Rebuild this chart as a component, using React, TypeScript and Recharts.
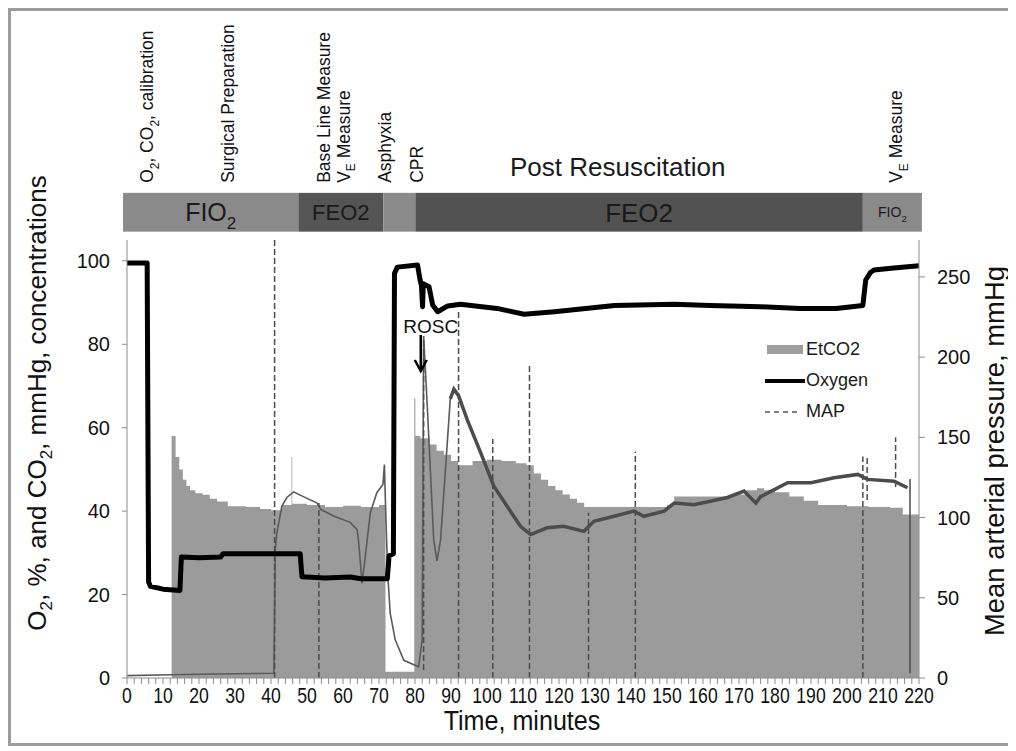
import React from 'react'
import { ComposedChart, Area, Line, XAxis, YAxis, ReferenceArea, ReferenceDot, Legend } from 'recharts'

const SANS = "'Liberation Sans', Arial, sans-serif"

// time axis, minutes: minor tick every 2, label every 10
const timeTicks = Array.from({ length: 111 }, (_, i) => i * 2)
const leftTicks = [0, 20, 40, 60, 80, 100]
const rightTicks = [0, 50, 100, 150, 200, 250]

// [minute, EtCO2 mmHg]
const etco2: [number, number][] = [
  [12.4, 58], [13.5, 53], [14.5, 50], [15.5, 47.5], [16.5, 46], [17.5, 45], [19, 44.3], [21, 43.9],
  [23, 43], [25, 42.3], [28, 41.2], [33, 41], [37, 40.5], [40, 40.2], [43, 41.5], [45.7, 53],
  [45.9, 41.8], [50, 41.5], [55, 41], [60, 41.3], [65, 41], [70, 41.5], [71.8, 1.5], [79.8, 67],
  [80.1, 58], [81.5, 57.5], [84, 56], [86, 54.5], [88, 53.5], [90, 52], [92, 51], [96, 52],
  [100, 52.3], [104, 52], [108, 51.5], [111, 51], [113, 49], [115, 47.5], [117, 46], [119, 45],
  [121, 44], [123, 43], [125, 42], [127, 41], [135, 41], [145, 41], [150, 41.5], [152, 43.5],
  [158, 43.5], [163, 43.5], [168, 44], [172, 45], [175, 45.5], [177, 45], [180, 44.5], [184, 43.5],
  [188, 42.5], [192, 41.5], [200, 41.2], [206, 41], [212, 40.8], [215.5, 39.2], [220, 39.2],
]

// [minute, oxygen %]
const oxygen: [number, number][] = [
  [0, 99.5], [5.6, 99.5], [6.0, 23], [6.5, 22], [10, 21.3], [14.7, 21], [15.1, 29], [20, 28.8],
  [26, 29], [26.7, 29.8], [35, 29.8], [48.1, 29.8], [48.6, 24.3], [55, 24], [62, 24.2], [65, 23.8],
  [72.3, 23.8], [72.8, 29.3], [74, 29.8], [74.3, 97], [75.1, 98.5], [80.7, 99], [81.4, 95.5],
  [81.8, 94], [82.1, 89], [82.3, 94.5], [83.9, 93.8], [84.9, 89.4], [86.3, 87.8], [89.1, 89.2],
  [92.6, 89.6], [102.8, 88.6], [110.3, 87.2], [118.7, 87.8], [135.4, 89.3], [152, 89.6], [162, 89.3],
  [176, 89], [187, 88.6], [197, 88.6], [204.4, 89.3], [205.2, 95.4], [206.5, 97.2], [207.5, 97.8],
  [213, 98.3], [220, 98.8],
]

// [minute, MAP mmHg] before and during resuscitation
const mapEarly: [number, number][] = [
  [0, 1.5], [12, 2], [25, 2.5], [40.8, 3], [41.2, 80], [41.6, 90], [43, 107], [44.4, 112.5],
  [46.3, 116], [48.1, 114], [52.8, 109], [53.9, 105], [57.4, 101], [62, 97], [63.9, 92.5],
  [64.3, 86], [65.3, 59], [66.2, 76], [67.6, 103], [69.4, 115.5], [71.1, 120.6], [71.5, 133],
  [71.9, 101], [72.4, 65.6], [73.1, 40.6], [74.5, 23.8], [76.9, 11], [81, 7], [82, 24], [82.4, 213],
  [83.4, 170], [84.3, 128], [85.2, 86], [86.1, 73], [87.1, 86], [88.4, 128], [89.8, 174],
]

// [minute, MAP mmHg] after ROSC
const mapLate: [number, number][] = [
  [89.8, 174], [90.8, 180], [92.1, 176], [94.5, 161], [98.2, 140.6], [101.9, 119.6], [105.6, 107],
  [109.3, 94.6], [112.1, 89.4], [116.7, 93.6], [121.3, 94.6], [126.9, 91.4], [129.7, 97.7],
  [135.3, 100.8], [140.8, 104], [143.6, 100.8], [149.2, 104], [152, 109], [157.5, 108],
  [166.8, 112.5], [171.4, 116.5], [174.7, 109], [176, 113], [183.5, 121.7], [190, 121.7],
  [196.4, 124.8], [203, 126.9], [205.7, 123.8], [213.1, 122.7], [216.8, 118.6],
]

// [minute, low, high] MAP flushes / excursions
const mapSpikes: [number, number, number][] = [
  [41, 0, 273], [53.3, 0, 109], [82.4, 5, 213], [92.1, 0, 230], [101.6, 0, 149], [111.8, 0, 195],
  [128.2, 0, 103], [141.2, 0, 141], [204.4, 0, 138], [205.6, 111, 138], [213.5, 119, 150],
  [217.5, 3, 124],
]
const mapTail: [number, number][] = [[217.5, 3], [220, 2]]

// ventilation phases along the top bar
const phaseBounds = [-1.1, 47.6, 71.2, 80.1, 204.4, 220.8]
const phaseNames = ['FIO_2', 'FEO2', '', 'FEO2', 'FIO_2']
const phaseFill = ['#8a8a8a', '#555555', '#8a8a8a', '#525252', '#8a8a8a']
const phaseFont = [25, 22, 0, 26, 14]

const eventTimes = [5.6, 28.1, 54.5, 60.1, 71.5, 80.4, 213.6]
const eventLabels = ['O_2, CO_2, calibration', 'Surgical Preparation', 'Base Line Measure', 'V_E Measure', 'Asphyxia', 'CPR', 'V_E Measure']

const etco2Rows = etco2.map(([t, v]) => ({ t, etco2: v }))
const oxygenRows = oxygen.map(([t, v]) => ({ t, o2: v }))
const mapEarlyRows = mapEarly.map(([t, v]) => ({ t, map: v }))
const mapLateRows = mapLate.map(([t, v]) => ({ t, map: v }))
const spikeRows = [
  ...mapSpikes.flatMap(([t, lo, hi]) => [{ t, map: lo }, { t, map: hi }, { t: t + 0.001, map: null }]),
  ...mapTail.map(([t, v]) => ({ t, map: v })),
].sort((a, b) => a.t - b.t)

// text with "_x" subscripts, drawn as svg tspans
function subText(s: string, size: number) {
  const parts = s.split(/_(\w)/)
  const out: React.ReactNode[] = []
  parts.forEach((p, i) => {
    if (i % 2 === 1) {
      out.push(<tspan key={i} dy={size * 0.3} fontSize={size * 0.68}>{p}</tspan>)
    } else if (p) {
      out.push(<tspan key={i} dy={i > 0 ? -size * 0.3 : undefined}>{p}</tspan>)
    }
  })
  return out
}

function PhaseShape(props: any) {
  const { x, y, width, height, idx } = props
  const fs = phaseFont[idx]
  return (
    <g>
      <rect x={x} y={y} width={width} height={height} fill={phaseFill[idx]} />
      {phaseNames[idx] && (
        <text x={x + width / 2} y={y + height / 2 + fs * 0.36} textAnchor="middle"
          fontSize={fs} fontFamily={SANS} fill="#1a1a1a">
          {subText(phaseNames[idx], fs)}
        </text>
      )}
    </g>
  )
}

function EventLabel(props: any) {
  const { cx, cy, label } = props
  const fs = 17.5
  return (
    <g transform={`translate(${cx + fs * 0.36},${cy}) rotate(-90)`}>
      <text x={0} y={0} fontSize={fs} fontFamily={SANS} fill="#111">
        {subText(label, fs)}
      </text>
    </g>
  )
}

function RoscMark(props: any) {
  const { cx, cy } = props
  return (
    <g>
      <text x={cx + 10} y={cy - 38} textAnchor="middle" fontSize={19} fontFamily={SANS} fill="#111">ROSC</text>
      <line x1={cx} y1={cy - 36} x2={cx} y2={cy - 1} stroke="#000" strokeWidth={2.5} />
      <polyline points={`${cx - 6},${cy - 11} ${cx},${cy} ${cx + 6},${cy - 11}`} fill="none" stroke="#000" strokeWidth={2.5} />
    </g>
  )
}

// condensed-looking time labels
function TimeTick(props: any) {
  const { x, y, payload } = props
  const v = payload.value
  if (v % 10 !== 0) return <g />
  return (
    <g transform={`translate(${x},${y}) scale(0.8,1)`}>
      <text x={0} y={0} dy="0.76em" textAnchor="middle" fontSize={22} fontFamily={SANS} fill="#111">{v}</text>
    </g>
  )
}

function LegendBox() {
  const row = { display: 'flex', alignItems: 'center', height: 31 } as const
  const txt = { fontSize: 18, fontFamily: SANS, color: '#1a1a1a', marginLeft: 1 }
  return (
    <div>
      <div style={row}>
        <svg width={40} height={14}><rect x={2} y={2} width={36} height={9} fill="#9e9e9e" /></svg>
        <span style={txt}>EtCO2</span>
      </div>
      <div style={row}>
        <svg width={40} height={14}><line x1={0} y1={7} x2={40} y2={7} stroke="#000" strokeWidth={4} /></svg>
        <span style={txt}>Oxygen</span>
      </div>
      <div style={row}>
        <svg width={40} height={14}><line x1={0} y1={7} x2={36} y2={7} stroke="#555" strokeWidth={1.3} strokeDasharray="5 4" /></svg>
        <span style={txt}>MAP</span>
      </div>
    </div>
  )
}

export default function App() {
  return (
    <div style={{ position: 'relative', width: 1003, height: 738, border: '3px solid #9c9c9c', boxSizing: 'border-box', background: '#fff' }}>
      <ComposedChart width={997} height={732} margin={{ top: 229, right: 0, bottom: 0, left: 0 }}>
        <XAxis type="number" dataKey="t" domain={[0, 220]} allowDataOverflow ticks={timeTicks} interval={0}
          height={65} tickSize={6} tickMargin={2}
          axisLine={{ stroke: '#8c8c8c' }} tickLine={{ stroke: '#8c8c8c' }}
          tick={<TimeTick />} />
        <YAxis yAxisId="left" domain={[0, 105]} allowDataOverflow ticks={leftTicks} width={116} tickSize={5} tickMargin={12}
          axisLine={{ stroke: '#8c8c8c' }} tickLine={{ stroke: '#8c8c8c' }}
          tick={{ fontSize: 20, fontFamily: SANS, fill: '#111' }} />
        <YAxis yAxisId="right" orientation="right" domain={[0, 273]} allowDataOverflow ticks={rightTicks} width={89} tickSize={6} tickMargin={12}
          axisLine={{ stroke: '#8c8c8c' }} tickLine={{ stroke: '#8c8c8c' }}
          tick={{ fontSize: 20, fontFamily: SANS, fill: '#111' }} />

        <Area data={etco2Rows} dataKey="etco2" yAxisId="left" type="stepAfter" stroke="none" fill="#9b9b9b"
          fillOpacity={1} isAnimationActive={false} activeDot={false} />
        <Line data={mapEarlyRows} dataKey="map" yAxisId="right" stroke="#5a5a5a" strokeWidth={1.6} dot={false}
          activeDot={false} isAnimationActive={false} />
        <Line data={mapLateRows} dataKey="map" yAxisId="right" stroke="#4c4c4c" strokeWidth={3.5} dot={false}
          activeDot={false} isAnimationActive={false} />
        <Line data={spikeRows} dataKey="map" yAxisId="right" stroke="#4c4c4c" strokeWidth={1.5} strokeDasharray="6 3"
          dot={false} activeDot={false} isAnimationActive={false} />
        <Line data={oxygenRows} dataKey="o2" yAxisId="left" stroke="#000" strokeWidth={5} strokeLinejoin="round"
          dot={false} activeDot={false} isAnimationActive={false} />

        {phaseNames.map((_, i) => (
          <ReferenceArea key={`ph${i}`} yAxisId="left" x1={phaseBounds[i]} x2={phaseBounds[i + 1]} y1={107} y2={116.3}
            ifOverflow="visible" shape={(p: any) => <PhaseShape {...p} idx={i} />} />
        ))}
        {eventTimes.map((t, i) => (
          <ReferenceDot key={`ev${i}`} yAxisId="left" x={t} y={118.7} ifOverflow="visible"
            shape={(p: any) => <EventLabel {...p} label={eventLabels[i]} />} />
        ))}
        <ReferenceDot yAxisId="left" x={136.3} y={120.4} ifOverflow="visible"
          shape={(p: any) => (
            <text x={p.cx} y={p.cy} textAnchor="middle" fontSize={26} fontFamily={SANS} fill="#1a1a1a">Post Resuscitation</text>
          )} />
        <ReferenceDot yAxisId="left" x={81.6} y={73.6} ifOverflow="visible" shape={(p: any) => <RoscMark {...p} />} />

        <Legend layout="vertical" align="center" verticalAlign="middle" content={() => <LegendBox />}
          wrapperStyle={{ left: 754, top: 323, width: 160 }} />
      </ComposedChart>

      <div style={{ position: 'absolute', left: 26, top: 392, transform: 'translate(-50%, -50%) rotate(-90deg)', whiteSpace: 'nowrap', fontSize: 26, lineHeight: '30px', fontFamily: SANS, color: '#111' }}>
        O<sub style={{ fontSize: 17, lineHeight: 0 }}>2</sub>, %, and CO<sub style={{ fontSize: 17, lineHeight: 0 }}>2</sub>, mmHg, concentrations
      </div>
      <div style={{ position: 'absolute', left: 983, top: 440, transform: 'translate(-50%, -50%) rotate(-90deg)', whiteSpace: 'nowrap', fontSize: 27.4, lineHeight: '31px', fontFamily: SANS, color: '#111' }}>
        Mean arterial pressure, mmHg
      </div>
      <div style={{ position: 'absolute', left: 511, top: 710, transform: 'translate(-50%, -50%) scale(0.93, 1)', whiteSpace: 'nowrap', fontSize: 27, lineHeight: '20px', fontFamily: SANS, color: '#111' }}>
        Time, minutes
      </div>
    </div>
  )
}
